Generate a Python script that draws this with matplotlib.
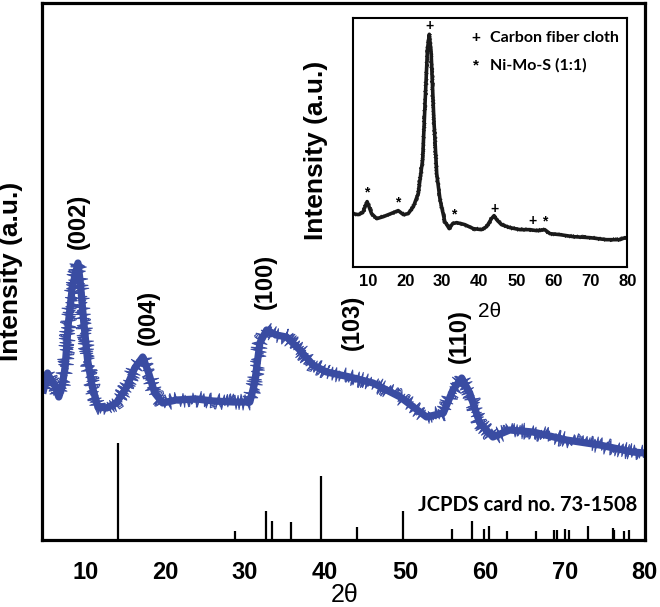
import numpy as np
import matplotlib
matplotlib.use('Agg')
import matplotlib.pyplot as plt

plt.rcParams['font.family'] = 'Liberation Sans'
plt.rcParams['font.weight'] = 'bold'
plt.rcParams['axes.labelweight'] = 'bold'

# main XRD pattern (Ni-Mo-S)
two_theta = [4.8, 5.3, 5.7, 6.3, 6.7, 7.1, 7.5, 7.9, 8.4, 9.1, 9.4, 9.8, 10.3, 10.9,
             11.6, 12.7, 13.9, 15.2, 16.2, 17.2, 17.9, 18.7, 19.7, 21.4, 23.9, 26.0,
             28.5, 30.6, 31.2, 31.85, 32.7, 33.9, 35.2, 36.85, 38.5, 40.2, 43.1, 46.0,
             49.4, 52.7, 54.8, 56.0, 57.1, 58.1, 59.35, 61.0, 63.1, 66.0, 70.2, 74.35,
             78.5, 80.0]
intensity = [150, 167, 160, 153, 143, 153, 173, 217, 253, 277, 257, 220, 180, 153,
             133, 132, 137, 153, 172, 183, 168, 147, 137, 140, 141, 139,
             138, 138, 157, 197, 210, 205, 203, 190, 175, 168, 163, 157,
             143, 123, 127, 150, 162, 147, 117, 103, 110, 108, 100, 95,
             88, 87]

# JCPDS 73-1508 reference lines
ref_pos = [14.1, 28.8, 32.6, 33.4, 35.8, 39.5, 44.0, 49.7, 55.9, 58.4, 59.9, 60.5,
           62.7, 66.4, 68.6, 69.0, 70.0, 70.5, 72.9, 76.0, 76.2, 77.4, 78.0]
ref_int = [97, 9, 29, 19, 18, 64, 12.5, 29, 11, 19, 11, 14,
           9, 8.5, 9.5, 9.5, 11, 9.5, 14, 11.5, 10, 9, 9.5]

peak_labels = ['(002)', '(004)', '(100)', '(103)', '(110)']
peak_x = [9.2, 17.9, 32.5, 43.4, 56.85]
peak_y = [319, 223, 259, 218, 204]

# inset: carbon fiber cloth + Ni-Mo-S
in_x = [5.8, 7.3, 8.5, 9.7, 10.9, 12.3, 14.1, 16.8, 18.1, 19.5, 20.8, 22.2, 23.5,
        24.7, 25.4, 26.0, 26.5, 27.0, 27.7, 28.5, 29.4, 30.7, 31.9, 32.8, 33.9,
        36.1, 38.4, 40.6, 42.0, 43.3, 44.0, 44.7, 46.0, 48.3, 51.0, 53.7, 55.5,
        57.7, 59.1, 61.8, 65.4, 69.9, 74.4, 78.0, 79.4, 80.0]
in_y = [53, 52, 54, 65, 53, 48, 50, 54, 56, 52, 53, 60, 73,
        107, 167, 217, 232, 213, 150, 93, 67, 45, 38, 43, 44,
        42, 38, 37, 40, 48, 51, 47, 42, 39, 37, 37, 36,
        37, 33, 32, 30, 29, 27, 27, 29, 28]
mark_sym = ['*', '*', '+', '*', '+', '+', '*']
mark_x = [9.7, 18.0, 26.5, 33.2, 44.0, 54.3, 57.7]
mark_y = [74, 64, 240, 52, 58, 46, 45]

calibri = 'Lato'

fig = plt.figure(figsize=(6.6, 6.07), dpi=100)
ax = fig.add_axes([0.0636, 0.1104, 0.9134, 0.8846])

# solid core plus thin jittered copies for the noisy band
ax.plot(two_theta, intensity, color='#3a4ca2', lw=5.2)
for sc in (8, 6, 4):
    ln, = ax.plot(two_theta, intensity, color='#3a4ca2', lw=0.8)
    ln.set_sketch_params(scale=sc, length=0.3, randomness=4)
ax.vlines(ref_pos, 0, ref_int, color='black', lw=1.6)

for lab, px, py in zip(peak_labels, peak_x, peak_y):
    ax.text(px, py, lab, rotation=90, ha='center', va='center', fontsize=17)

ax.text(79.0, 35, 'JCPDS card no. 73-1508', ha='right', va='center',
        fontsize=14.5, family=calibri)

ax.set_xlim(4.6, 80)
ax.set_ylim(0, 537)
ax.set_xticks(np.arange(10, 81, 10))
ax.set_yticks([])
ax.tick_params(axis='x', length=0, pad=15, labelsize=17)
for s in ax.spines.values():
    s.set_linewidth(2.3)
ax.set_xlabel('2θ', fontsize=18, fontweight='normal')
ax.xaxis.set_label_coords(0.502, -0.08)
ax.set_ylabel('Intensity (a.u.)', fontsize=19)
ax.yaxis.set_label_coords(-0.032, 0.5)

# inset
axi = fig.add_axes([0.5344, 0.5606, 0.416, 0.4093])
axi.plot(in_x, in_y, color='#1a1a1a', lw=2.6)
li, = axi.plot(in_x, in_y, color='#1a1a1a', lw=0.7)
li.set_sketch_params(scale=2.0, length=0.3, randomness=4)
for sym, mx, my in zip(mark_sym, mark_x, mark_y):
    axi.text(mx, my, sym, ha='center', va='center', fontsize=10)
axi.text(0.449, 0.921, '+', transform=axi.transAxes, ha='center', va='center',
         fontsize=11)
axi.text(0.50, 0.921, 'Carbon fiber cloth', transform=axi.transAxes, ha='left',
         va='center', fontsize=11.5, family=calibri)
axi.text(0.449, 0.812, '*', transform=axi.transAxes, ha='center', va='center',
         fontsize=11)
axi.text(0.50, 0.812, 'Ni-Mo-S (1:1)', transform=axi.transAxes, ha='left',
         va='center', fontsize=11.5, family=calibri)
axi.set_xlim(5.8, 80)
axi.set_ylim(0, 248)
axi.set_xticks(np.arange(10, 81, 10))
axi.set_yticks([])
axi.tick_params(axis='x', length=0, pad=5, labelsize=12)
for s in axi.spines.values():
    s.set_linewidth(1.5)
axi.set_xlabel('2θ', fontsize=15, fontweight='normal')
axi.xaxis.set_label_coords(0.5, -0.142)
axi.set_ylabel('Intensity (a.u.)', fontsize=19)
axi.yaxis.set_label_coords(-0.09, 0.47)

fig.savefig('out.png', dpi=100)
